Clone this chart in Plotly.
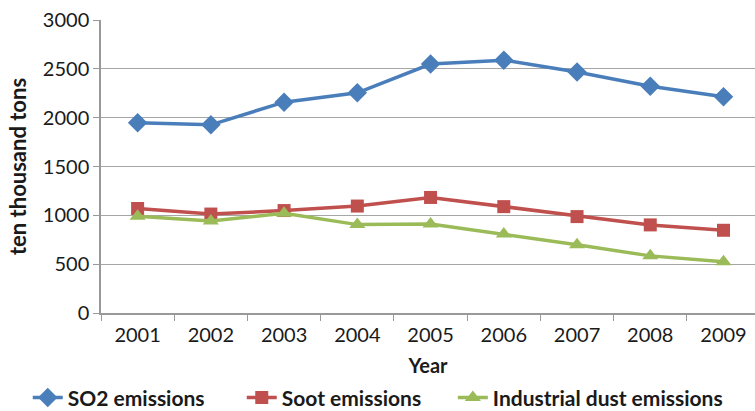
import plotly.graph_objects as go

years = ["2001", "2002", "2003", "2004", "2005", "2006", "2007", "2008", "2009"]
so2 = [1948, 1927, 2159, 2255, 2549, 2589, 2468, 2321, 2214]
soot = [1070, 1013, 1049, 1095, 1183, 1089, 987, 902, 847]
dust = [991, 941, 1021, 905, 911, 808, 699, 585, 524]

# name, values, colour, marker, marker size, legend group
series = [
    ("SO2 emissions", so2, "#4A7EBB", "diamond", 15, "legend"),
    ("Soot emissions", soot, "#C0504D", "square", 13, "legend"),
    ("Industrial dust emissions", dust, "#9BBB59", "triangle-up", 14, "legend2"),
]

fig = go.Figure()
for name, vals, color, sym, size, leg in series:
    fig.add_trace(go.Scatter(
        x=years, y=vals, name=name, mode="lines+markers",
        line=dict(color=color, width=3.5),
        marker=dict(symbol=sym, size=size, color=color),
        legend=leg,
    ))

font_family = "Lato, Open Sans, sans-serif"
legend_font = dict(size=21, family=font_family, weight="bold", color="#1a1a1a")
fig.update_layout(
    width=755, height=411,
    margin=dict(l=101, r=0, t=20, b=98, autoexpand=False),
    paper_bgcolor="white", plot_bgcolor="white",
    font=dict(family=font_family, color="#1a1a1a"),
    showlegend=True,
    legend=dict(
        orientation="h", x=-0.112, xanchor="left", y=-0.29, yanchor="middle",
        font=legend_font, entrywidth=169, entrywidthmode="pixels",
        traceorder="normal",
    ),
    legend2=dict(
        orientation="h", x=0.538, xanchor="left", y=-0.29, yanchor="middle",
        font=legend_font,
    ),
    xaxis=dict(
        type="category", range=[-0.5, 8.43],
        showgrid=False, showline=True, linecolor="#999999", linewidth=1.5,
        ticks="outside", tickson="boundaries", ticklen=6, tickcolor="#999999",
        ticklabelstandoff=3,
        tickfont=dict(size=20, color="#1a1a1a"),
        title=dict(text="<b>Year</b>", font=dict(size=20), standoff=14),
    ),
    yaxis=dict(
        range=[0, 3000], dtick=500,
        showgrid=True, gridcolor="#a6a6a6", gridwidth=1.2,
        showline=True, linecolor="#999999", linewidth=1.5,
        ticks="outside", ticklen=6, tickcolor="#999999",
        tickfont=dict(size=20, color="#1a1a1a"),
        zeroline=False,
        title=dict(text="<b>ten thousand tons</b>", font=dict(size=22), standoff=10),
    ),
)

fig.write_html("out.html")
